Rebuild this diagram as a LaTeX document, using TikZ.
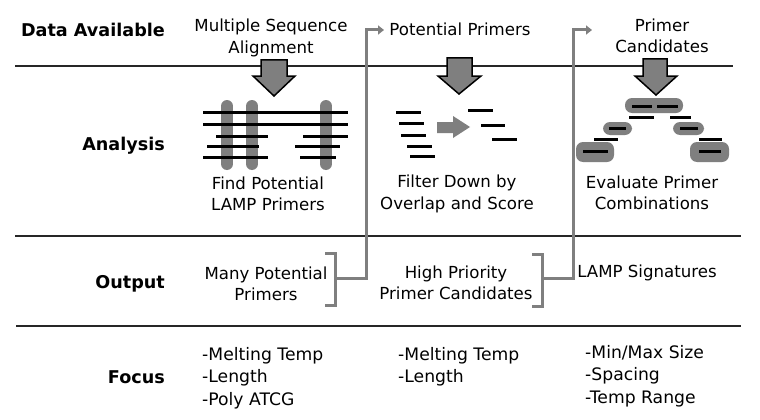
\documentclass[tikz,border=0pt]{standalone}
\usepackage{fontspec}
\setmainfont{DejaVu Sans}
\usetikzlibrary{arrows.meta}
\definecolor{arrgray}{HTML}{7F7F7F}
\begin{document}
\begin{tikzpicture}[x=1pt,y=-1pt,
  rowlabel/.style={font=\fontsize{17.6}{21}\selectfont\bfseries, anchor=east, inner sep=0pt},
  txt/.style={font=\fontsize{16.6}{21.5}\selectfont, align=center, inner sep=0pt},
  focuslist/.style={font=\fontsize{17.2}{22.5}\selectfont, align=left, anchor=north west, inner sep=0pt},
  rule/.style={line width=2.5pt, draw=black!85},
  seq/.style={line width=3pt, draw=black},
  bar/.style={line width=12pt, line cap=round, draw=arrgray},
  pill/.style={fill=arrgray, rounded corners=7pt},
  blockarrow/.style={fill=arrgray, draw=black, line width=1.5pt, line join=miter},
  conn/.style={draw=arrgray, line width=3pt},
  connarrow/.style={conn, -{Triangle[length=6pt,width=9pt]}},
]
\useasboundingbox (0,0) rectangle (760,420);
\fill[white] (0,0) rectangle (760,420);

% row rules
\draw[rule] (15,66) -- (733,66);
\draw[rule] (15,236) -- (741,236);
\draw[rule] (16,326) -- (741,326);

% row labels
\node[rowlabel] (lData) at (165,30) {Data Available};
\node[rowlabel] (lAna) at (165,146) {Analysis};
\node[rowlabel] (lOut) at (165,284) {Output};
\node[rowlabel] (lFoc) at (165,377) {Focus};

% top texts
\node[txt] (dMSA) at (271,38) {Multiple Sequence\\Alignment};
\node[txt] (dPot) at (460,29) {Potential Primers};
\node[txt] (dCand) at (662,36) {Primer\\Candidates};

% block arrows
\draw[blockarrow] (261,60) -- (287,60) -- (287,76) -- (295,76) -- (274,96) -- (253,76) -- (261,76) -- cycle;
\draw[blockarrow] (447,58) -- (472,58) -- (472,76) -- (481,76) -- (459,94) -- (438,76) -- (447,76) -- cycle;
\draw[blockarrow] (643,59) -- (667,59) -- (667,76) -- (677,76) -- (656,95) -- (635,76) -- (643,76) -- cycle;

% column 1 graphic
\draw[bar] (227,106) -- (227,164);
\draw[bar] (252,106) -- (252,164);
\draw[bar] (326,106) -- (326,164);
\draw[seq] (203,112) -- (348,112);
\draw[seq] (203,124) -- (348,124);
\draw[seq] (216,136) -- (268,136);
\draw[seq] (303,136) -- (348,136);
\draw[seq] (207,146) -- (259,146);
\draw[seq] (295,146) -- (340,146);
\draw[seq] (203,157) -- (268,157);
\draw[seq] (300,157) -- (336,157);

% column 2 graphic
\draw[seq] (396,112) -- (421,112);
\draw[seq] (399,123) -- (424,123);
\draw[seq] (401,135) -- (426,135);
\draw[seq] (407,146) -- (432,146);
\draw[seq] (410,156) -- (435,156);
\fill[arrgray] (437,122) -- (453,122) -- (453,116) -- (470,127) -- (453,138) -- (453,133) -- (437,133) -- cycle;
\draw[seq] (468,110) -- (493,110);
\draw[seq] (481,125) -- (505,125);
\draw[seq] (492,139) -- (517,139);

% column 3 graphic
\fill[pill] (625,98) rectangle (683,113);
\draw[seq] (632,106) -- (652,106);
\draw[seq] (657,106) -- (678,106);
\draw[seq] (629,117) -- (654,117);
\draw[seq] (670,117) -- (691,117);
\fill[pill] (603,122) rectangle (632,135);
\draw[seq] (609,128) -- (626,128);
\fill[pill] (673,122) rectangle (704,135);
\draw[seq] (680,128) -- (698,128);
\draw[seq] (594,139) -- (618,139);
\draw[seq] (699,139) -- (722,139);
\fill[pill] (576,142) rectangle (614,162);
\draw[seq] (583,151) -- (608,151);
\fill[pill] (690,142) rectangle (729,162);
\draw[seq] (699,151) -- (721,151);

% analysis captions
\node[txt] (aFind) at (268,194) {Find Potential\\LAMP Primers};
\node[txt] (aFilt) at (457,194) {Filter Down by\\Overlap and Score};
\node[txt] (aEval) at (652,193) {Evaluate Primer\\Combinations};

% outputs
\node[txt] (out1) at (266,284) {Many Potential\\Primers};
\node[txt] (out2) at (456,283) {High Priority\\Primer Candidates};
\node[txt] (out3) at (647,273) {LAMP Signatures};

% brackets and connectors
\coordinate (b1m) at (335,278);
\coordinate (b1c) at (366,30);
\coordinate (b1e) at (384,30);
\draw[conn] (325,253) -- (335,253) -- (335,305) -- (325,305);
\draw[connarrow] (b1m) -- (b1m -| b1c) -- (b1c) -- (b1e);
\coordinate (b2m) at (542,278);
\coordinate (b2c) at (573,30);
\coordinate (b2e) at (592,30);
\draw[conn] (532,254) -- (542,254) -- (542,306) -- (532,306);
\draw[connarrow] (b2m) -- (b2m -| b2c) -- (b2c) -- (b2e);

% focus lists
\node[focuslist] (f1) at (202,347) {-Melting Temp\\-Length\\-Poly ATCG};
\node[focuslist] (f2) at (398,347) {-Melting Temp\\-Length};
\node[focuslist] (f3) at (585,345) {-Min/Max Size\\-Spacing\\-Temp Range};
\end{tikzpicture}
\end{document}
